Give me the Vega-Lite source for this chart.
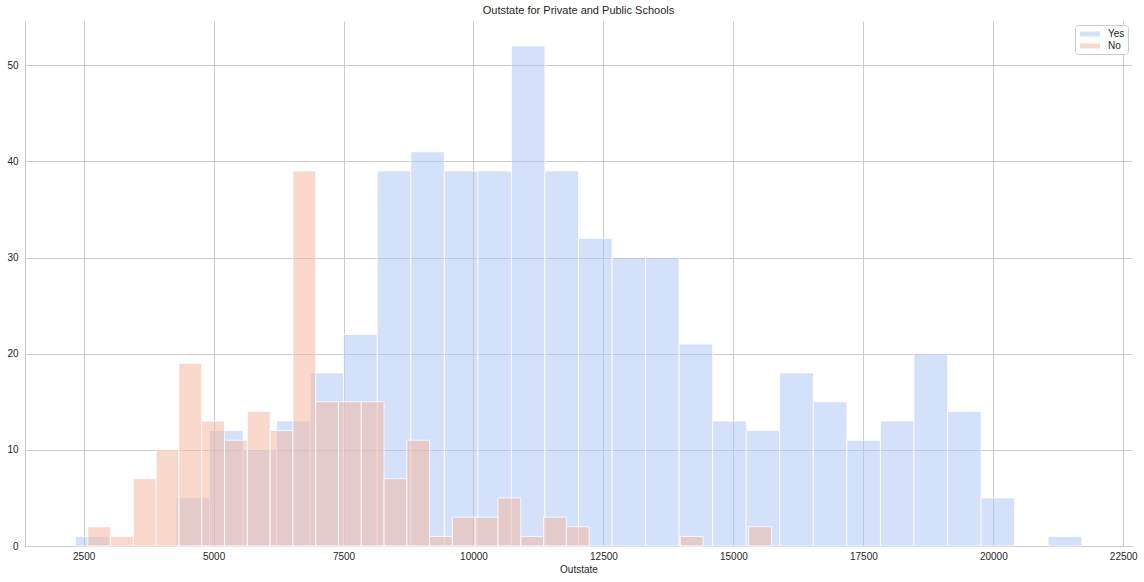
{
  "$schema": "https://vega.github.io/schema/vega-lite/v6.json",
  "width": 1107,
  "height": 525,
  "autosize": {"type": "none"},
  "padding": {"left": 25, "top": 21, "right": 12, "bottom": 36},
  "background": "white",
  "title": {"text": "Outstate for Private and Public Schools", "font": "Liberation Sans", "fontSize": 11, "fontWeight": "normal", "color": "#262626", "offset": 5},
  "data": {"values": [
    {"Private": "Yes", "start": 2340, "end": 2985.3, "count": 1},
    {"Private": "Yes", "start": 4276, "end": 4921.3, "count": 5},
    {"Private": "Yes", "start": 4921.3, "end": 5566.7, "count": 12},
    {"Private": "Yes", "start": 5566.7, "end": 6212, "count": 10},
    {"Private": "Yes", "start": 6212, "end": 6857.3, "count": 13},
    {"Private": "Yes", "start": 6857.3, "end": 7502.7, "count": 18},
    {"Private": "Yes", "start": 7502.7, "end": 8148, "count": 22},
    {"Private": "Yes", "start": 8148, "end": 8793.3, "count": 39},
    {"Private": "Yes", "start": 8793.3, "end": 9438.7, "count": 41},
    {"Private": "Yes", "start": 9438.7, "end": 10084, "count": 39},
    {"Private": "Yes", "start": 10084, "end": 10729.3, "count": 39},
    {"Private": "Yes", "start": 10729.3, "end": 11374.7, "count": 52},
    {"Private": "Yes", "start": 11374.7, "end": 12020, "count": 39},
    {"Private": "Yes", "start": 12020, "end": 12665.3, "count": 32},
    {"Private": "Yes", "start": 12665.3, "end": 13310.7, "count": 30},
    {"Private": "Yes", "start": 13310.7, "end": 13956, "count": 30},
    {"Private": "Yes", "start": 13956, "end": 14601.3, "count": 21},
    {"Private": "Yes", "start": 14601.3, "end": 15246.7, "count": 13},
    {"Private": "Yes", "start": 15246.7, "end": 15892, "count": 12},
    {"Private": "Yes", "start": 15892, "end": 16537.3, "count": 18},
    {"Private": "Yes", "start": 16537.3, "end": 17182.7, "count": 15},
    {"Private": "Yes", "start": 17182.7, "end": 17828, "count": 11},
    {"Private": "Yes", "start": 17828, "end": 18473.3, "count": 13},
    {"Private": "Yes", "start": 18473.3, "end": 19118.7, "count": 20},
    {"Private": "Yes", "start": 19118.7, "end": 19764, "count": 14},
    {"Private": "Yes", "start": 19764, "end": 20409.3, "count": 5},
    {"Private": "Yes", "start": 21054.7, "end": 21700, "count": 1},
    {"Private": "No", "start": 2580, "end": 3018.4, "count": 2},
    {"Private": "No", "start": 3018.4, "end": 3456.8, "count": 1},
    {"Private": "No", "start": 3456.8, "end": 3895.2, "count": 7},
    {"Private": "No", "start": 3895.2, "end": 4333.6, "count": 10},
    {"Private": "No", "start": 4333.6, "end": 4772, "count": 19},
    {"Private": "No", "start": 4772, "end": 5210.4, "count": 13},
    {"Private": "No", "start": 5210.4, "end": 5648.8, "count": 11},
    {"Private": "No", "start": 5648.8, "end": 6087.2, "count": 14},
    {"Private": "No", "start": 6087.2, "end": 6525.6, "count": 12},
    {"Private": "No", "start": 6525.6, "end": 6964, "count": 39},
    {"Private": "No", "start": 6964, "end": 7402.4, "count": 15},
    {"Private": "No", "start": 7402.4, "end": 7840.8, "count": 15},
    {"Private": "No", "start": 7840.8, "end": 8279.2, "count": 15},
    {"Private": "No", "start": 8279.2, "end": 8717.6, "count": 7},
    {"Private": "No", "start": 8717.6, "end": 9156, "count": 11},
    {"Private": "No", "start": 9156, "end": 9594.4, "count": 1},
    {"Private": "No", "start": 9594.4, "end": 10032.8, "count": 3},
    {"Private": "No", "start": 10032.8, "end": 10471.2, "count": 3},
    {"Private": "No", "start": 10471.2, "end": 10909.6, "count": 5},
    {"Private": "No", "start": 10909.6, "end": 11348, "count": 1},
    {"Private": "No", "start": 11348, "end": 11786.4, "count": 3},
    {"Private": "No", "start": 11786.4, "end": 12224.8, "count": 2},
    {"Private": "No", "start": 13978.4, "end": 14416.8, "count": 1},
    {"Private": "No", "start": 15293.6, "end": 15732, "count": 2}
  ]},
  "mark": {"type": "bar", "fillOpacity": 0.5, "stroke": "white", "strokeWidth": 1, "strokeOpacity": 0.8, "orient": "vertical"},
  "encoding": {
    "x": {"field": "start", "type": "quantitative", "scale": {"domain": [1372, 22668], "nice": false, "zero": false, "padding": 0},
      "axis": {"title": "Outstate", "format": "d", "labelFlush": false, "values": [2500, 5000, 7500, 10000, 12500, 15000, 17500, 20000, 22500], "labelPadding": 5, "titlePadding": 3}},
    "x2": {"field": "end"},
    "y": {"field": "count", "type": "quantitative", "scale": {"domain": [0, 54.6], "nice": false, "padding": 0},
      "axis": {"title": null, "format": "d", "values": [0, 10, 20, 30, 40, 50], "labelPadding": 7}},
    "color": {"field": "Private", "type": "nominal", "scale": {"domain": ["Yes", "No"], "range": ["#aac4f8", "#f5b399"]},
      "legend": {"title": null, "orient": "top-right", "offset": 4, "fillColor": "white", "strokeColor": "#cccccc", "cornerRadius": 3, "padding": 3,
        "symbolType": "M-1.667,-0.417H1.667V0.417H-1.667Z", "symbolSize": 144, "symbolOffset": 6, "symbolOpacity": 0.5, "symbolStrokeWidth": 0, "labelOffset": 12, "rowPadding": 1,
        "labelFont": "Liberation Sans", "labelFontSize": 10, "labelColor": "#262626"}}
  },
  "config": {
    "view": {"stroke": null},
    "axis": {"grid": true, "gridColor": "#cccccc", "gridWidth": 1, "domainColor": "#cccccc", "domainWidth": 1, "ticks": false,
      "labelFont": "Liberation Sans", "labelFontSize": 10, "labelColor": "#262626",
      "titleFont": "Liberation Sans", "titleFontSize": 10, "titleFontWeight": "normal", "titleColor": "#262626"}
  }
}
